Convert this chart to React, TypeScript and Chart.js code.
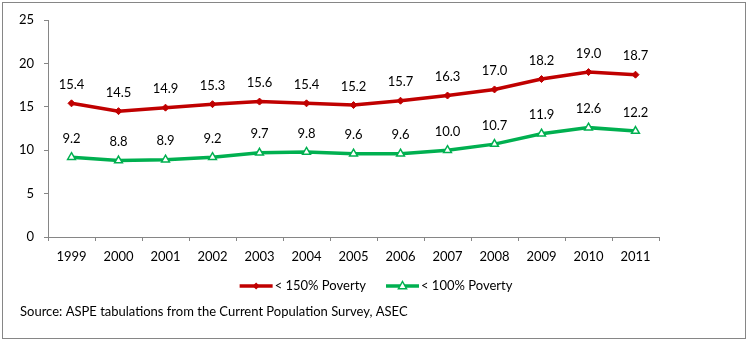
import React, { useEffect, useRef } from "react";
import { Chart, registerables } from "chart.js";

Chart.register(...registerables);

const years = ["1999", "2000", "2001", "2002", "2003", "2004", "2005", "2006", "2007", "2008", "2009", "2010", "2011"];
const poverty150 = [15.4, 14.5, 14.9, 15.3, 15.6, 15.4, 15.2, 15.7, 16.3, 17.0, 18.2, 19.0, 18.7];
const poverty100 = [9.2, 8.8, 8.9, 9.2, 9.7, 9.8, 9.6, 9.6, 10.0, 10.7, 11.9, 12.6, 12.2];
const seriesLabels = ["< 150% Poverty", "< 100% Poverty"];
const yMin = 0;
const yMax = 25;
const yStep = 5;
const sourceNote = "Source: ASPE tabulations from the Current Population Survey, ASEC";

const FONT = "Lato, 'Noto Sans', sans-serif";
const FONT_SIZE = 13;
const RED = "#C00000";
const GREEN = "#00B050";
const AXIS = "#868686";

const labelsPlugin = {
  id: "valueLabels",
  afterDatasetsDraw(chart: any) {
    const ctx = chart.ctx;
    ctx.save();
    ctx.font = `${FONT_SIZE}px ${FONT}`;
    ctx.fillStyle = "#000";
    ctx.textAlign = "center";
    ctx.textBaseline = "middle";
    chart.data.datasets.forEach((ds: any, i: number) => {
      const meta = chart.getDatasetMeta(i);
      meta.data.forEach((el: any, j: number) => {
        ctx.fillText(Number(ds.data[j]).toFixed(1), el.x, el.y - 18.5);
      });
    });
    ctx.restore();
  },
};

const legendPlugin = {
  id: "bottomLegend",
  afterDraw(chart: any) {
    const ctx = chart.ctx;
    ctx.save();
    ctx.font = `${FONT_SIZE}px ${FONT}`;
    ctx.textBaseline = "middle";
    ctx.textAlign = "left";
    const lineW = 33;
    const gapText = 2;
    const gapItems = 20;
    const items = chart.data.datasets.map((ds: any) => ({
      ds,
      w: lineW + gapText + ctx.measureText(ds.label).width,
    }));
    const total = items.reduce((s: number, it: any) => s + it.w, 0) + gapItems * (items.length - 1);
    let x = chart.width / 2 + 2 - total / 2;
    const y = 286;
    items.forEach((it: any) => {
      const ds = it.ds;
      ctx.strokeStyle = ds.borderColor;
      ctx.lineWidth = 3.5;
      ctx.beginPath();
      ctx.moveTo(x, y);
      ctx.lineTo(x + lineW, y);
      ctx.stroke();
      const cx = x + lineW / 2;
      ctx.fillStyle = ds.pointBackgroundColor;
      ctx.strokeStyle = ds.pointBorderColor;
      ctx.lineWidth = ds.pointBorderWidth;
      if (ds.pointStyle === "triangle") {
        const r = ds.pointRadius;
        ctx.beginPath();
        ctx.moveTo(cx, y - r);
        ctx.lineTo(cx + r * 0.9, y + r * 0.6);
        ctx.lineTo(cx - r * 0.9, y + r * 0.6);
        ctx.closePath();
        ctx.fill();
        ctx.stroke();
      } else {
        const r = ds.pointRadius;
        ctx.beginPath();
        ctx.moveTo(cx, y - r);
        ctx.lineTo(cx + r, y);
        ctx.lineTo(cx, y + r);
        ctx.lineTo(cx - r, y);
        ctx.closePath();
        ctx.fill();
      }
      ctx.fillStyle = "#000";
      ctx.fillText(ds.label, x + lineW + gapText, y);
      x += it.w + gapItems;
    });
    ctx.fillText(sourceNote, 20, 312);
    ctx.restore();
  },
};

export default function App() {
  const ref = useRef<HTMLCanvasElement | null>(null);
  useEffect(() => {
    if (!ref.current) return;
    const chart = new Chart(ref.current, {
      type: "line",
      data: {
        labels: years,
        datasets: [
          {
            label: seriesLabels[0],
            data: poverty150,
            borderColor: RED,
            backgroundColor: RED,
            borderWidth: 3.5,
            pointStyle: "rectRot",
            pointRadius: 3.5,
            pointBackgroundColor: RED,
            pointBorderColor: RED,
            pointBorderWidth: 1,
            tension: 0,
          },
          {
            label: seriesLabels[1],
            data: poverty100,
            borderColor: GREEN,
            backgroundColor: "#ffffff",
            borderWidth: 3.5,
            pointStyle: "triangle",
            pointRadius: 4.5,
            pointBackgroundColor: "#ffffff",
            pointBorderColor: GREEN,
            pointBorderWidth: 1.5,
            tension: 0,
          },
        ],
      },
      options: {
        animation: false,
        responsive: false,
        maintainAspectRatio: false,
        layout: { padding: { left: 0, right: 89, top: 20, bottom: 74 } },
        plugins: {
          legend: { display: false },
          tooltip: { enabled: false },
          title: { display: false },
        },
        scales: {
          x: {
            type: "category",
            offset: true,
            grid: {
              offset: true,
              drawOnChartArea: false,
              drawTicks: true,
              tickLength: 4,
              color: AXIS,
            },
            border: { display: true, color: AXIS, width: 1 },
            ticks: {
              color: "#000",
              font: { family: FONT, size: FONT_SIZE },
              padding: 8,
              maxRotation: 0,
              autoSkip: false,
            },
            afterFit: (s: any) => {
              s.height = 30;
            },
          },
          y: {
            min: yMin,
            max: yMax,
            grid: {
              drawOnChartArea: false,
              drawTicks: true,
              tickLength: 4,
              color: AXIS,
            },
            border: { display: true, color: AXIS, width: 1 },
            ticks: {
              stepSize: yStep,
              color: "#000",
              font: { family: FONT, size: FONT_SIZE },
              padding: 10,
            },
            afterFit: (s: any) => {
              s.width = 48;
            },
          },
        },
      },
      plugins: [labelsPlugin, legendPlugin],
    });
    return () => chart.destroy();
  }, []);

  return (
    <div style={{ position: "fixed", left: 0, top: 0, width: 748, height: 341, background: "#fff" }}>
      <canvas ref={ref} width={748} height={341} style={{ position: "absolute", left: 0, top: 0, width: 748, height: 341 }} />
      <div
        style={{
          position: "absolute",
          left: 2,
          top: 2,
          width: 744,
          height: 337,
          border: `1px solid ${AXIS}`,
          boxSizing: "border-box",
          pointerEvents: "none",
        }}
      />
    </div>
  );
}
